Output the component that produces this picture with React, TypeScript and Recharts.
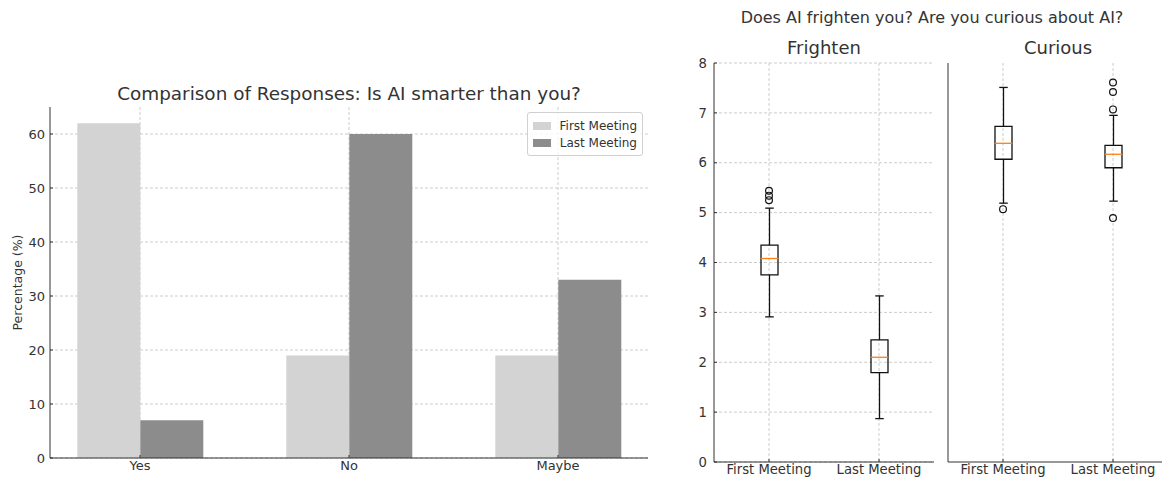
import React from 'react';
import { BarChart, Bar, ComposedChart, Scatter, XAxis, YAxis, CartesianGrid, Legend } from 'recharts';

const FONT = '"DejaVu Sans", sans-serif';
const TEXT = '#333333';
const GRID = '#cccccc';
const AXIS = '#333333';
const FIRST_COLOR = '#d3d3d3';
const LAST_COLOR = '#8c8c8c';

// bar chart: "Is AI smarter than you?"
const answers = ['Yes', 'No', 'Maybe'];
const firstMeeting = [62, 19, 19];
const lastMeeting = [7, 60, 33];
const percentTicks = [0, 10, 20, 30, 40, 50, 60];

// box plots: [whisker low, q1, median, q3, whisker high] per meeting
const meetings = ['First Meeting', 'Last Meeting'];
const scoreTicks = [0, 1, 2, 3, 4, 5, 6, 7, 8];
const frightenBoxes = [
  [2.91, 3.75, 4.08, 4.35, 5.09],
  [0.87, 1.79, 2.1, 2.45, 3.33],
];
const frightenOutliers = [[5.25, 5.34, 5.44], []];
const curiousBoxes = [
  [5.19, 6.07, 6.39, 6.73, 7.51],
  [5.23, 5.9, 6.17, 6.35, 6.95],
];
const curiousOutliers = [[5.07], [4.89, 7.07, 7.42, 7.61]];

const barData = answers.map((a, i) => ({ answer: a, first: firstMeeting[i], last: lastMeeting[i] }));

const toBoxRows = (boxes: number[][]) =>
  boxes.map(([lo, q1, med, q3, hi], i) => ({
    name: meetings[i],
    base: lo,
    lowW: q1 - lo,
    lowBox: med - q1,
    highBox: q3 - med,
    highW: hi - q3,
  }));

const toOutlierRows = (outs: number[][]) =>
  outs.flatMap((vals, i) => vals.map((v) => ({ name: meetings[i], value: v })));

const LINE = { stroke: '#111', strokeWidth: 1.3 };

const LowerWhisker = (p: any) => {
  const cx = p.x + p.width / 2;
  const yb = p.y + p.height;
  return (
    <g>
      <line x1={cx} x2={cx} y1={p.y} y2={yb} {...LINE} />
      <line x1={cx - p.width / 4} x2={cx + p.width / 4} y1={yb} y2={yb} {...LINE} />
    </g>
  );
};

const UpperWhisker = (p: any) => {
  const cx = p.x + p.width / 2;
  return (
    <g>
      <line x1={cx} x2={cx} y1={p.y} y2={p.y + p.height} {...LINE} />
      <line x1={cx - p.width / 4} x2={cx + p.width / 4} y1={p.y} y2={p.y} {...LINE} />
    </g>
  );
};

const LowerBox = (p: any) => {
  const yb = p.y + p.height;
  return (
    <path d={`M${p.x},${p.y} L${p.x},${yb} L${p.x + p.width},${yb} L${p.x + p.width},${p.y}`} fill="none" {...LINE} />
  );
};

const UpperBox = (p: any) => {
  const yb = p.y + p.height;
  return (
    <g>
      <path d={`M${p.x},${yb} L${p.x},${p.y} L${p.x + p.width},${p.y} L${p.x + p.width},${yb}`} fill="none" {...LINE} />
      <line x1={p.x} x2={p.x + p.width} y1={yb} y2={yb} stroke="#ff7f0e" strokeWidth={1.3} />
    </g>
  );
};

const Outlier = (p: any) => (
  <circle cx={p.cx} cy={p.cy} r={3.4} fill="none" stroke="#111" strokeWidth={1.2} />
);

const LegendBox = (props: any) => (
  <div
    style={{
      border: '1px solid #d0d0d0',
      borderRadius: 3,
      background: 'rgba(255,255,255,0.8)',
      padding: '4px 5px 4px 5px',
      fontFamily: FONT,
      fontSize: 12,
      color: TEXT,
      boxSizing: 'border-box',
      width: 116,
    }}
  >
    {(props.payload || []).map((e: any) => (
      <div key={e.value} style={{ display: 'flex', alignItems: 'center', height: 17, whiteSpace: 'nowrap' }}>
        <span style={{ display: 'inline-block', width: 23, height: 8, background: e.color, marginRight: 9 }} />
        <span>{e.value}</span>
      </div>
    ))}
  </div>
);

const titleStyle = (left: number, top: number, width: number, size: number): React.CSSProperties => ({
  position: 'absolute',
  left,
  top,
  width,
  textAlign: 'center',
  fontFamily: FONT,
  fontSize: size,
  lineHeight: `${Math.round(size + 4)}px`,
  color: TEXT,
  whiteSpace: 'nowrap',
});

const BoxPanel = ({ boxes, outliers, showLabels, width }: any) => (
  <ComposedChart
    width={width}
    height={481}
    data={toBoxRows(boxes)}
    margin={{ top: 63, right: 0, bottom: 0, left: 0 }}
    barSize={17}
  >
    <CartesianGrid stroke={GRID} strokeDasharray="3 2" syncWithTicks />
    <XAxis
      dataKey="name"
      allowDuplicatedCategory={false}
      height={19}
      tickSize={-3}
      tickMargin={6}
      stroke={AXIS}
      tick={{ fill: TEXT, fontSize: 13.2, fontFamily: FONT }}
    />
    <YAxis
      type="number"
      domain={[0, 8]}
      ticks={scoreTicks}
      width={showLabels ? 50 : 8}
      tickSize={-3}
      tickMargin={10}
      stroke={AXIS}
      tick={showLabels ? { fill: TEXT, fontSize: 13.2, fontFamily: FONT } : false}
    />
    <Bar dataKey="base" stackId="box" fill="transparent" isAnimationActive={false} />
    <Bar dataKey="lowW" stackId="box" shape={LowerWhisker} isAnimationActive={false} />
    <Bar dataKey="lowBox" stackId="box" shape={LowerBox} isAnimationActive={false} />
    <Bar dataKey="highBox" stackId="box" shape={UpperBox} isAnimationActive={false} />
    <Bar dataKey="highW" stackId="box" shape={UpperWhisker} isAnimationActive={false} />
    <Scatter data={toOutlierRows(outliers)} dataKey="value" shape={Outlier} isAnimationActive={false} />
  </ComposedChart>
);

export default function App() {
  return (
    <div style={{ position: 'absolute', left: 0, top: 0, width: 1162, height: 481, overflow: 'hidden', background: '#fff' }}>
      <div style={titleStyle(49, 83, 600, 18.4)}>Comparison of Responses: Is AI smarter than you?</div>
      <div style={{ position: 'absolute', left: 0, top: 0 }}>
        <BarChart
          width={660}
          height={481}
          data={barData}
          margin={{ top: 107, right: 12, bottom: 0, left: 0 }}
          barCategoryGap="20%"
          barGap={0}
        >
          <CartesianGrid stroke={GRID} strokeDasharray="3 2" syncWithTicks />
          <XAxis
            dataKey="answer"
            padding={{ left: -14.5, right: -14.5 }}
            height={23}
            tickSize={-3}
            tickMargin={6}
            stroke={AXIS}
            tick={{ fill: TEXT, fontSize: 13, fontFamily: FONT }}
          />
          <YAxis
            domain={[0, 65]}
            ticks={percentTicks}
            width={50}
            tickSize={-3}
            tickMargin={8}
            stroke={AXIS}
            tick={{ fill: TEXT, fontSize: 13, fontFamily: FONT }}
            label={{
              value: 'Percentage (%)',
              angle: -90,
              position: 'insideLeft',
              offset: 18,
              style: { textAnchor: 'middle', fill: TEXT, fontSize: 12.5, fontFamily: FONT },
            }}
          />
          <Legend
            layout="horizontal"
            verticalAlign="middle"
            align="center"
            content={<LegendBox />}
            wrapperStyle={{ position: 'absolute', top: 112, left: 527, width: 116 }}
          />
          <Bar dataKey="first" name="First Meeting" fill={FIRST_COLOR} isAnimationActive={false} />
          <Bar dataKey="last" name="Last Meeting" fill={LAST_COLOR} isAnimationActive={false} />
        </BarChart>
      </div>

      <div style={titleStyle(700, 8, 464, 16)}>Does AI frighten you? Are you curious about AI?</div>
      <div style={titleStyle(714, 37, 220, 18)}>Frighten</div>
      <div style={titleStyle(948, 37, 220, 18)}>Curious</div>
      <div style={{ position: 'absolute', left: 664, top: 0 }}>
        <BoxPanel boxes={frightenBoxes} outliers={frightenOutliers} showLabels width={270} />
      </div>
      <div style={{ position: 'absolute', left: 940, top: 0 }}>
        <BoxPanel boxes={curiousBoxes} outliers={curiousOutliers} showLabels={false} width={228} />
      </div>
    </div>
  );
}
